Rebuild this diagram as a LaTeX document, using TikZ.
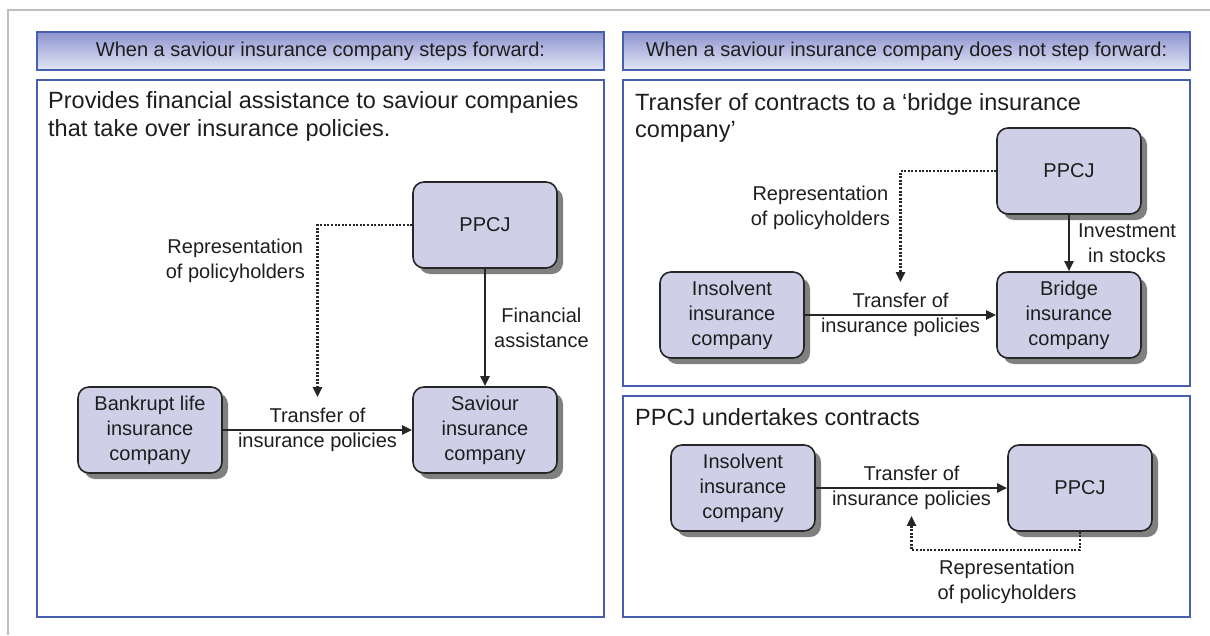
\documentclass[tikz,border=0pt]{standalone}
\usepackage{fontspec}
\setmainfont{Liberation Sans}
\usepackage{xcolor}
\usepackage{tikz}
\usetikzlibrary{arrows.meta,shadows}
\definecolor{panelblue}{RGB}{72,94,176}
\definecolor{headtop}{RGB}{142,148,206}
\definecolor{headbot}{RGB}{226,230,246}
\definecolor{boxfill}{RGB}{207,207,232}
\definecolor{framegray}{RGB}{192,192,192}
\definecolor{textgray}{RGB}{30,30,30}
\newcommand{\lblfont}{\fontsize{20}{25}\selectfont}
\newcommand{\ttlfont}{\fontsize{23.5}{27.5}\selectfont}
\tikzset{
    panel/.style={draw=panelblue, line width=1.8pt},
    header/.style={draw=panelblue, line width=1.8pt, top color=headtop, bottom color=headbot,
        minimum width=567pt, minimum height=38pt, inner sep=0pt, font=\lblfont, text=textgray},
    entity/.style={draw=black!85, line width=1.6pt, fill=boxfill, rounded corners=11pt,
        minimum width=144pt, minimum height=86pt, inner sep=0pt, align=center,
        font=\lblfont, text=textgray,
        drop shadow={shadow xshift=6pt, shadow yshift=-6pt, fill=black!50, opacity=1}},
    flow/.style={-{Triangle[length=10pt,width=9pt]}, line width=2.3pt, black!85},
    rep/.style={flow, dash pattern=on 2pt off 1.6pt},
    note/.style={font=\lblfont, text=textgray, align=center, inner sep=0pt},
    caption/.style={font=\ttlfont, text=textgray, align=left, anchor=north west, inner sep=0pt}
}

\begin{document}
\begin{tikzpicture}[x=1pt,y=-1pt]
    \useasboundingbox (0,0) rectangle (1210,635);
    \draw[framegray, line width=1.5pt] (8,635) -- (8,10) -- (1210,10);

    % left side: a saviour company takes over
    \node[header] (headA) at (320.5,51) {When a saviour insurance company steps forward:};
    \draw[panel] (37,80) rectangle (604,617);
    \node[caption] (titleA) at (48,91.5) {Provides financial assistance to saviour companies\\that take over insurance policies.};
    \node[entity] (ppcjA) at (485,225) {PPCJ};
    \node[entity] (saviour) at (485,430) {Saviour\\insurance\\company};
    \node[entity] (bankrupt) at (150,430) {Bankrupt life\\insurance\\company};
    \draw[flow] (bankrupt) -- node[note] (trA) {Transfer of\\insurance policies} (saviour);
    \draw[flow] (ppcjA) -- node[note, anchor=west, xshift=8pt] (finA) {Financial\\assistance} (saviour);
    \coordinate (repA) at ([yshift=10pt]trA.north);
    \draw[rep] (ppcjA.west) -| (repA);
    \node[note, anchor=east] (repnoteA) at (305,261) {Representation\\of policyholders};

    % right side: no saviour company
    \node[header] (headB) at (906.5,51) {When a saviour insurance company does not step forward:};

    % bridge insurance company
    \draw[panel] (623,80) rectangle (1190,386);
    \node[caption] (titleB) at (635,93) {Transfer of contracts to a ‘bridge insurance\\company’};
    \node[entity] (ppcjB) at (1069,171) {PPCJ};
    \node[entity] (bridge) at (1069,315) {Bridge\\insurance\\company};
    \node[entity] (insolventB) at (732,315) {Insolvent\\insurance\\company};
    \draw[flow] (insolventB) -- node[note] (trB) {Transfer of\\insurance policies} (bridge);
    \draw[flow] (ppcjB) -- node[note, anchor=west, xshift=8pt] (invB) {Investment\\in stocks} (bridge);
    \coordinate (repB) at ([yshift=10pt]trB.north);
    \draw[rep] (ppcjB.west) -| (repB);
    \node[note, anchor=east] (repnoteB) at (890,208) {Representation\\of policyholders};

    % PPCJ itself undertakes the contracts
    \draw[panel] (623,396) rectangle (1190,617);
    \node[caption] (titleC) at (635,408.5) {PPCJ undertakes contracts};
    \node[entity] (insolventC) at (743,488) {Insolvent\\insurance\\company};
    \node[entity] (ppcjC) at (1080,488) {PPCJ};
    \draw[flow] (insolventC) -- node[note] (trC) {Transfer of\\insurance policies} (ppcjC);
    \coordinate (repC) at ([yshift=-5pt]trC.south);
    \draw[rep] (ppcjC.south) -- ++(0,18) -| (repC);
    \node[note] (repnoteC) at (1007,582) {Representation\\of policyholders};
\end{tikzpicture}
\end{document}
